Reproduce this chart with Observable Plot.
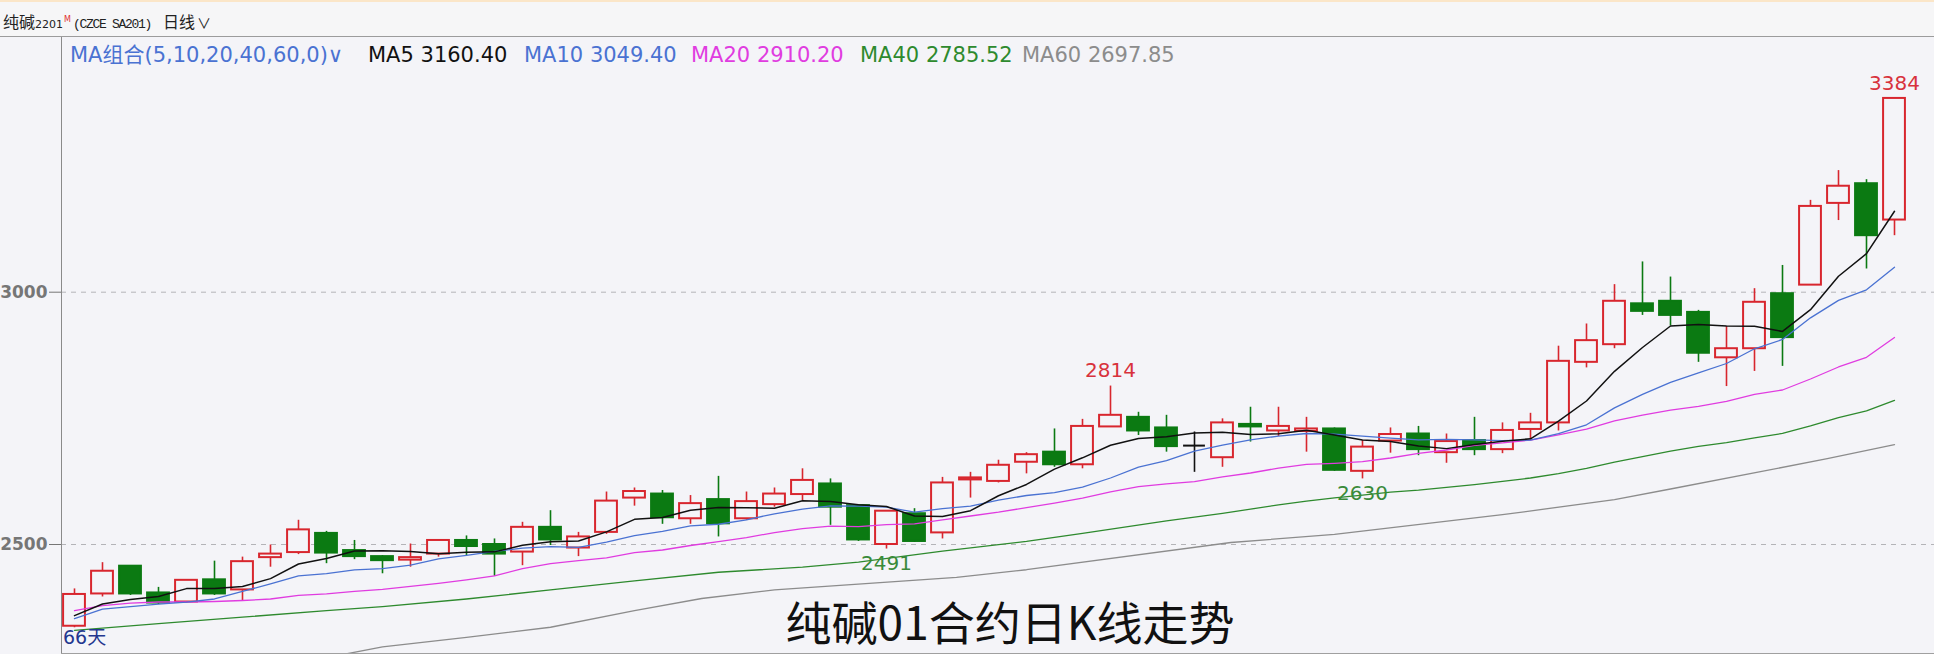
<!DOCTYPE html>
<html>
<head>
<meta charset="utf-8">
<script src="https://cdn.jsdelivr.net/npm/d3@7"></script>
<script src="https://cdn.jsdelivr.net/npm/@observablehq/plot@0.6"></script>
<style>
  html, body { margin: 0; padding: 0; background: #f4f4f8; }
  #wrap { position: relative; width: 1934px; height: 654px; overflow: hidden; background: #f4f4f8; }
  #hdr { position: absolute; left: 0; top: 0; width: 1934px; height: 37px; box-sizing: border-box;
         border-top: 2px solid #fbe6c8; border-bottom: 1px solid #9c9c9c; background: #f6f6f7; }
  #hdrtext { position: absolute; left: 3px; top: 8px; white-space: nowrap; color: #222; line-height: 20px; }
  .cn { font-family: "Noto Sans CJK SC", sans-serif; font-size: 16px; }
  .small { font-family: "DejaVu Sans", sans-serif; font-size: 11px; }
  .mono { font-family: "Liberation Mono", monospace; font-size: 13px; letter-spacing: -1.3px; }
  .msup { font-family: "DejaVu Sans", sans-serif; font-size: 8px; color: #e03030; vertical-align: 6px; margin: 0 2px 0 1px; }
  #chart { position: absolute; left: 0; top: 37px; }
  .leg { position: absolute; top: 43px; white-space: nowrap; font-family: "DejaVu Sans", "Noto Sans CJK SC", sans-serif; font-size: 21px; line-height: 24px; }
  #days { position: absolute; left: 63px; top: 626px; font-family: "DejaVu Sans", "Noto Sans CJK SC", sans-serif; font-size: 19px; line-height: 22px; color: #23378f; }
  #bigtitle { position: absolute; left: 0; width: 2020px; text-align: center; top: 596px; line-height: 48px;
              font-family: "Noto Sans CJK SC", sans-serif; font-size: 46px; color: #111; white-space: nowrap; }
</style>
</head>
<body>
<div id="wrap">
  <div id="hdr">
    <div id="hdrtext"><span class="cn">纯碱</span><span class="small">2201</span><span class="msup">M</span><span class="mono">(CZCE SA201)</span><span class="cn" style="margin-left:12px">日线</span><span class="cn" style="font-size:14px;margin-left:2px">∨</span></div>
  </div>
  <div id="chart"></div>
  <div id="legend"></div>
  <div id="days">66天</div>
  <div id="bigtitle">纯碱01合约日K线走势</div>
</div>
<script>
// ---- data ----
const openP  = [2338,2402,2457,2404,2386,2430,2410,2474,2484,2522,2488,2476,2469,2481,2508,2500,2485,2534,2493,2524,2592,2600,2551,2589,2551,2579,2599,2620,2577,2500,2561,2523,2628,2625,2663,2683,2658,2733,2752,2731,2696,2672,2738,2725,2724,2729,2645,2705,2719,2682,2706,2688,2728,2741,2861,2896,2977,2982,2960,2870,2888,2997,3014,3176,3215,3143];
const highP  = [2412,2464,2458,2415,2430,2467,2475,2499,2548,2526,2508,2478,2501,2509,2517,2511,2544,2567,2524,2604,2612,2607,2597,2635,2604,2612,2650,2630,2578,2566,2571,2633,2643,2667,2682,2729,2748,2814,2762,2756,2723,2749,2772,2772,2752,2731,2706,2731,2734,2719,2752,2741,2760,2893,2937,3015,3060,3030,2964,2932,3007,3053,3182,3241,3223,3384];
const lowP   = [2335,2396,2399,2381,2384,2399,2388,2455,2480,2462,2470,2442,2455,2475,2478,2437,2458,2498,2476,2520,2576,2540,2540,2515,2548,2574,2587,2538,2506,2491,2504,2511,2592,2622,2640,2653,2650,2732,2716,2683,2643,2653,2703,2714,2683,2645,2630,2681,2676,2661,2676,2680,2709,2725,2850,2888,2954,2933,2861,2813,2843,2853,3014,3142,3046,3112];
const closeP = [2401,2447,2402,2384,2429,2402,2466,2481,2529,2483,2476,2468,2474,2508,2496,2481,2534,2509,2515,2586,2605,2553,2581,2541,2585,2600,2627,2574,2509,2566,2506,2622,2632,2657,2678,2658,2734,2756,2725,2694,2696,2741,2733,2734,2729,2647,2693,2718,2688,2704,2688,2726,2741,2863,2904,2982,2962,2954,2879,2888,2980,2910,3170,3210,3112,3384];

const ma5  = [2359,2382,2391,2397,2412.6,2412.8,2416.6,2432.4,2461.4,2472.2,2487,2487.4,2486,2481.8,2484.4,2485.4,2498.6,2505.6,2507,2525,2549.8,2553.6,2568,2573.2,2573,2572,2586.8,2585.4,2579,2575.2,2556.4,2555.4,2567,2596.6,2619,2649.4,2671.8,2696.6,2710.2,2713.4,2721,2722.4,2717.8,2719.6,2726.6,2716.8,2707.2,2704.2,2695,2690,2698.2,2704.8,2709.4,2744.4,2784.4,2843.2,2890.4,2933,2936.2,2933,2932.6,2922.2,2965.4,3031.6,3076.4,3160.40];
const ma10 = [2353,2372,2377,2382,2386,2392,2407,2422,2438,2442.4,2449.9,2452,2459.2,2471.6,2478.3,2486.2,2493,2495.8,2494.4,2504.7,2517.6,2526.1,2536.8,2540.1,2549,2560.9,2570.2,2576.7,2576.1,2574.1,2564.2,2571.1,2576.2,2587.8,2597.1,2602.9,2613.6,2631.8,2653.4,2666.2,2685.2,2697.1,2707.2,2714.9,2720,2718.9,2714.8,2711,2707.3,2708.3,2707.5,2706,2706.8,2719.7,2737.2,2770.7,2797.6,2821.2,2840.3,2858.7,2887.9,2906.3,2949.2,2983.9,3004.7,3049.40];
const ma20 = [2369,2379,2384,2386,2386,2387,2389,2392,2399,2402,2407,2411,2417,2423,2430,2438,2452,2462,2468,2473.6,2483.8,2489.1,2498,2505.9,2513.7,2523.6,2531.6,2536.3,2535.3,2539.4,2540.9,2548.6,2556.5,2564,2573.1,2581.9,2591.9,2604.3,2614.8,2620.2,2624.7,2634.1,2641.7,2651.4,2658.6,2660.9,2664.2,2671.4,2680.4,2687.3,2696.4,2701.6,2707,2717.3,2728.6,2744.8,2756.2,2766.1,2773.8,2783.5,2797.7,2806.2,2828,2851.8,2871,2910.20];
const ma40Day = [0,3,6,9,11,14,17,20,23,26,28,31,34,36,39,40,41,42,43,44,45,46,47,48,49,50,51,52,53,54,55,56,57,58,59,60,61,62,63,64,65];
const ma40    = [2330,2343,2356,2369,2377,2392,2410,2428,2445,2455,2465,2487,2506,2522,2546.9,2554.2,2561.6,2569.9,2578.6,2586.1,2592.2,2597.9,2603.8,2607.8,2613.3,2618.6,2625.1,2631.8,2640.6,2650.8,2663.4,2674.1,2685.2,2694.3,2701.8,2711.2,2720.1,2734.9,2751.6,2764.8,2785.52];
const ma60Day = [9.3,11,14,17,20,22.4,25,31.5,34,41.3,45,51,55,57,62.6,65];
const ma60    = [2279,2297,2316,2336,2369,2393,2410,2435,2450,2504,2520,2559,2589,2610,2670,2697.85];

const yTicks = [2500, 3000];
const peakDay = [65, 37],   peakValue = [3384, 2814];
const troughDay = [29, 46], troughValue = [2491, 2630];

const maNames  = ["MA5", "MA10", "MA20", "MA40", "MA60"];
const maColors = ["#111111", "#4a72d2", "#e03ce0", "#2e8a2e", "#8c8c8c"];

// ---- build tables ----
const days = d3.range(closeP.length);
const candles = days.map(i => ({day: i, open: openP[i], high: highP[i], low: lowP[i], close: closeP[i]}));
const RED = "#d8262e", GREEN = "#0b7a12", BG = "#f4f4f8";
const col = d => d.close > d.open ? RED : d.close < d.open ? GREEN : "#111";
const toPts = (xs, ys) => xs.map((x, k) => ({day: x, v: ys[k]}));
const series = [toPts(days, ma5), toPts(days, ma10), toPts(days, ma20), toPts(ma40Day, ma40), toPts(ma60Day, ma60)];
const peaks = toPts(peakDay, peakValue), troughs = toPts(troughDay, troughValue);

const half = 0.39;
const chart = Plot.plot({
  width: 1934, height: 617,
  marginLeft: 61, marginRight: 0, marginTop: 0, marginBottom: 1,
  style: {background: BG, fontFamily: "DejaVu Sans, sans-serif", overflow: "visible"},
  color: {type: "identity"},
  x: {domain: [0, 65], range: [74, 1894], axis: null},
  y: {domain: [2500, 3000], range: [507, 254.7]},
  marks: [
    Plot.ruleY(yTicks, {stroke: "#b4b4b8", strokeDasharray: "5,5"}),
    Plot.axisY(yTicks, {anchor: "left", tickSize: 12, tickPadding: 2, tickFormat: d => String(d), fontSize: 17, fontWeight: "bold", color: "#767676", label: null}),
    Plot.frame({anchor: "left", stroke: "#8a8a8a"}),
    Plot.frame({anchor: "bottom", stroke: "#a0a0a0"}),
    // candles
    Plot.ruleX(candles, {x: "day", y1: "low", y2: "high", stroke: col, strokeWidth: 1.6}),
    Plot.rect(candles.filter(d => d.open !== d.close), {
      x1: d => d.day - half, x2: d => d.day + half, y1: "open", y2: "close",
      fill: d => d.close > d.open ? BG : GREEN, stroke: col, strokeWidth: 2
    }),
    Plot.ruleY(candles.filter(d => d.open === d.close), {x1: d => d.day - half, x2: d => d.day + half, y: "close", stroke: "#111", strokeWidth: 2}),
    // moving averages
    ...series.slice().reverse().map((s, k) => Plot.line(s, {x: "day", y: "v", stroke: maColors[4 - k], strokeWidth: k === 4 ? 1.5 : 1.3, clip: true})),
    // extreme labels
    Plot.text(peaks, {x: "day", y: "v", text: d => String(d.v), dy: -15, fill: "#d8323c", fontSize: 20}),
    Plot.text(troughs, {x: "day", y: "v", text: d => String(d.v), dy: 15, fill: "#3a8a3a", fontSize: 20})
  ]
});
document.getElementById("chart").appendChild(chart);

// ---- legend row ----
const legend = document.getElementById("legend");
const legItems = [{text: "MA组合(5,10,20,40,60,0)∨", color: "#4a72d2", left: 70}];
const lastVals = [ma5, ma10, ma20, ma40, ma60].map(a => a[a.length - 1]);
const legLeft = [368, 524, 691, 860, 1022];
maNames.forEach((n, k) => legItems.push({text: `${n} ${lastVals[k].toFixed(2)}`, color: maColors[k], left: legLeft[k]}));
legItems.forEach(it => {
  const s = document.createElement("span");
  s.className = "leg";
  s.style.left = it.left + "px";
  s.style.color = it.color;
  s.textContent = it.text;
  legend.appendChild(s);
});
</script>
</body>
</html>
